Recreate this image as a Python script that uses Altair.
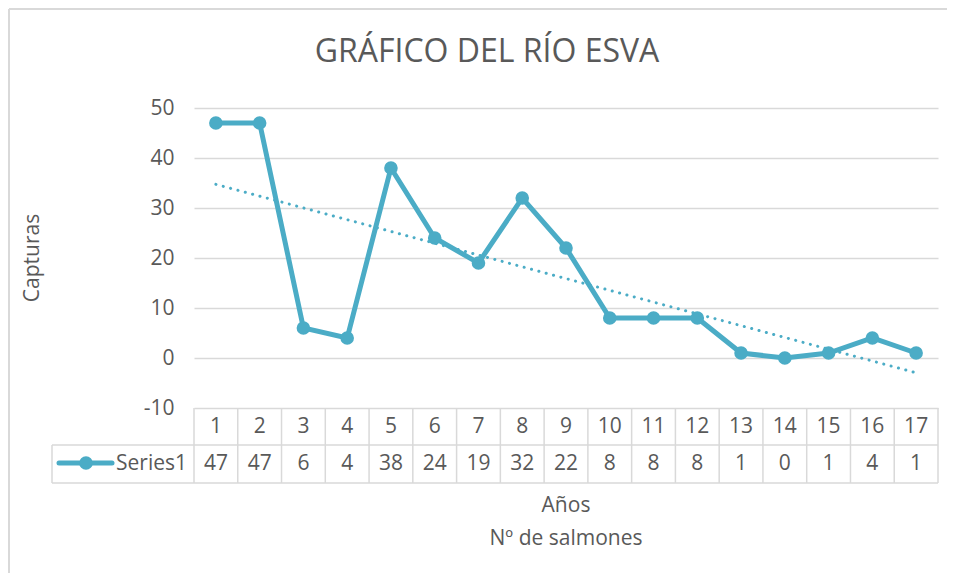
import altair as alt
import pandas as pd

years = list(range(1, 18))
catches = [47, 47, 6, 4, 38, 24, 19, 32, 22, 8, 8, 8, 1, 0, 1, 4, 1]

title_text = "GRÁFICO DEL RÍO ESVA"
y_title = "Capturas"
x_title1 = "Años"
x_title2 = "Nº de salmones"
series_name = "Series1"

LINE = "#4BACC6"
TXT = "#595959"
GRID = "#D9D9D9"
FONT = "Open Sans"
FS = 21

df = pd.DataFrame({"cat": years, "val": catches})
one = pd.DataFrame({"a": [0]})

xs = alt.Scale(domain=[0.5, 17.5], nice=False, zero=False)
ys = alt.Scale(domain=[-10, 50], nice=False)
xq = alt.X("cat:Q", scale=xs, axis=None)
yax = alt.Axis(values=[-10, 0, 10, 20, 30, 40, 50], title=None, domain=False,
               ticks=False, grid=True, gridColor=GRID, gridWidth=1.3,
               labelFontSize=FS, labelColor=TXT, labelFont=FONT, labelPadding=20,
               labelExpr="'' + datum.value")
yq = alt.Y("val:Q", scale=ys, axis=yax)

base = alt.Chart(df)
line = base.mark_line(color=LINE, strokeWidth=5).encode(x=xq, y=yq)
pts = base.mark_circle(color=LINE, size=185, opacity=1).encode(x=xq, y=yq)
trend = base.transform_regression("cat", "val", extent=[1, 17]).mark_line(
    color=LINE, strokeWidth=3, strokeDash=[0.1, 7.5], strokeCap="round"
).encode(x=xq, y=yq)

hdr = base.mark_text(fontSize=FS, color=TXT, font=FONT, baseline="middle").encode(
    x=xq, y=alt.value(319), text="cat:Q")
vals = base.mark_text(fontSize=FS, color=TXT, font=FONT, baseline="middle").encode(
    x=xq, y=alt.value(356), text="val:Q")

vrules = base.transform_calculate(b="datum.cat - 0.5").mark_rule(color=GRID, strokeWidth=1.5).encode(
    x=alt.X("b:Q", scale=xs, axis=None), y=alt.value(300), y2=alt.value(375))

o = alt.Chart(one)
def rule(**kw):
    return o.mark_rule(color=GRID, strokeWidth=1.5).encode(**kw)

table_lines = [
    rule(x=alt.value(744), y=alt.value(300), y2=alt.value(375)),
    rule(x=alt.value(-142), y=alt.value(337), y2=alt.value(375)),
    rule(x=alt.value(-142), x2=alt.value(744), y=alt.value(337)),
    rule(x=alt.value(-142), x2=alt.value(744), y=alt.value(375)),
]
border = [
    o.mark_rule(color=GRID, strokeWidth=2).encode(x=alt.value(-185), x2=alt.value(800), y=alt.value(-99)),
    o.mark_rule(color=GRID, strokeWidth=2).encode(x=alt.value(-185), y=alt.value(-99), y2=alt.value(500)),
]

leg_line = o.mark_rule(color=LINE, strokeWidth=5, strokeCap="round").encode(
    x=alt.value(-135), x2=alt.value(-82), y=alt.value(355))
leg_pt = o.mark_point(color=LINE, size=185, opacity=1, filled=True, shape="circle").encode(
    x=alt.value(-108), y=alt.value(355))
leg_txt = o.mark_text(fontSize=FS, color=TXT, font=FONT, align="right", baseline="middle").encode(
    x=alt.value(-7), y=alt.value(356), text=alt.value(series_name))

def label(txt, x, y, size=FS, angle=0):
    kw = dict(fontSize=size, color=TXT, font=FONT, align="center", baseline="middle")
    if angle:
        kw["angle"] = angle
    return o.mark_text(**kw).encode(x=alt.value(x), y=alt.value(y), text=alt.value(txt))

texts = [
    label(title_text, 293, -56, size=32),
    label(x_title1, 372, 398),
    label(x_title2, 372, 431),
    label(y_title, -161, 150, angle=270),
]

chart = alt.layer(
    line, pts, trend, vrules, hdr, vals, *table_lines, *border, leg_line, leg_pt, leg_txt, *texts
).properties(
    width=744, height=300,
    autosize=alt.AutoSizeParams(type="none"),
    padding={"left": 186, "top": 100, "right": 9, "bottom": 165},
    background="white",
).configure_view(stroke=None)

chart.save("out.html", embed_options={"renderer": "svg", "actions": False})
